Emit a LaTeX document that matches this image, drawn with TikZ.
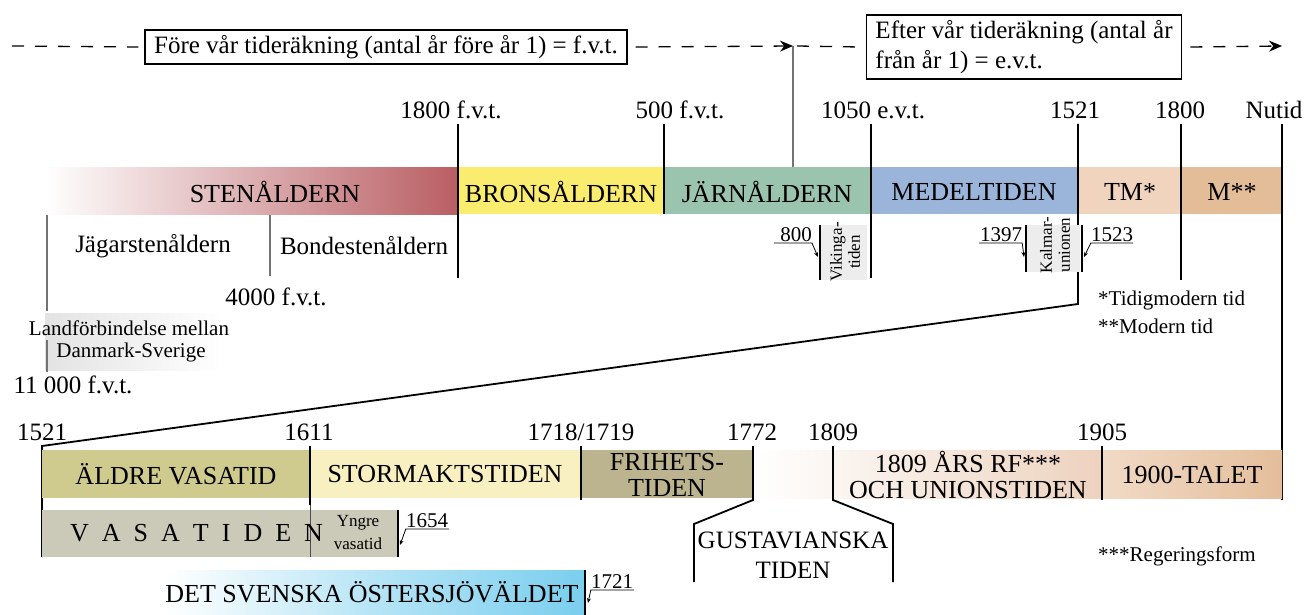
\documentclass[tikz,border=0pt]{standalone}
\usepackage{fontspec}
\setmainfont{Liberation Serif}
\usetikzlibrary{arrows.meta}
\definecolor{sten}{RGB}{185,94,99}
\definecolor{brons}{RGB}{250,236,110}
\definecolor{jarn}{RGB}{155,196,174}
\definecolor{medel}{RGB}{155,180,218}
\definecolor{tmcol}{RGB}{240,212,190}
\definecolor{modcol}{RGB}{227,189,152}
\definecolor{aldre}{RGB}{207,203,142}
\definecolor{storm}{RGB}{248,240,192}
\definecolor{frihet}{RGB}{187,180,143}
\definecolor{rfcol}{RGB}{237,210,190}
\definecolor{taletA}{RGB}{241,218,198}
\definecolor{taletB}{RGB}{228,190,155}
\definecolor{vasacol}{RGB}{203,202,184}
\definecolor{oster}{RGB}{122,206,238}
\definecolor{grayfill}{RGB}{236,237,236}
\newcommand{\szBand}{\fontsize{26}{26}\selectfont}
\newcommand{\szLab}{\fontsize{25}{30}\selectfont}
\newcommand{\szSmall}{\fontsize{21}{25}\selectfont}
\newcommand{\szTiny}{\fontsize{17}{18}\selectfont}
\begin{document}
\begin{tikzpicture}[x=1pt,y=-1pt,
  blk/.style={line width=1.8pt},
  gry/.style={line width=1.4pt, draw=black!55},
  lbl/.style={inner sep=0pt, font=\szLab},
  bandtxt/.style={inner sep=0pt, font=\szBand, align=center},
  dsh/.style={line width=1.3pt, dash pattern=on 12pt off 11pt},
  bigarrow/.style={-{Stealth[length=13pt,width=11pt]}},
  smallarrow/.style={-{Stealth[length=5pt,width=4pt]}, line width=0.8pt},
  numlbl/.style={inner sep=0pt, font=\szSmall, anchor=south},
  note/.style={inner sep=0pt, font=\szSmall, anchor=west},
  boxnode/.style={draw, line width=1.6pt, inner xsep=9pt, inner ysep=5pt, font=\szLab, align=left}]
\useasboundingbox (0,0) rectangle (1306,615);

% ---------- top arrows ----------
\node[boxnode] (fvt) at (386,47) {Före vår tideräkning (antal år före år 1) = f.v.t.};
\node[boxnode] (evt) at (1024,47) {Efter vår tideräkning (antal år\\från år 1) = e.v.t.};
\coordinate (d0) at (12,46);
\coordinate (arrA) at (793,46);
\coordinate (arrB) at (1282,46);
\coordinate (jtop) at (793,168);
\draw[dsh] (d0) -- ([xshift=-6pt]fvt.west);
\draw[dsh,bigarrow] ([xshift=8pt]fvt.east) -- (arrA);
\draw[dsh] ([xshift=4pt]arrA) -- ([xshift=-6pt]evt.west);
\draw[dsh,bigarrow] ([xshift=8pt]evt.east) -- (arrB);
\draw[gry] (arrA) -- (jtop);

% ---------- upper band ----------
\shade[left color=white, right color=sten] (45,167) rectangle (458,214);
\fill[brons] (458,167) rectangle (664,214);
\fill[jarn] (664,167) rectangle (871,214);
\fill[medel] (871,167) rectangle (1078,214);
\fill[tmcol] (1078,167) rectangle (1181,214);
\fill[modcol] (1181,167) rectangle (1282,214);

\node[bandtxt] (sten) at (275,192) {STENÅLDERN};
\node[bandtxt] (bron) at (561,192) {BRONSÅLDERN};
\node[bandtxt] (jarnt) at (767,192) {JÄRNÅLDERN};
\node[bandtxt] (medt) at (974,192) {MEDELTIDEN};
\node[bandtxt] (tmt) at (1130,192) {TM*};
\node[bandtxt] (mt) at (1232,192) {M**};

\node[lbl] (l1800) at (451,110) {1800 f.v.t.};
\node[lbl] (l500) at (680,110) {500 f.v.t.};
\node[lbl] (l1050) at (873,110) {1050 e.v.t.};
\node[lbl] (l1521) at (1075,110) {1521};
\node[lbl] (l1800b) at (1180,110) {1800};
\node[lbl] (lnu) at (1274,110) {Nutid};

\draw[blk] (458,124) -- (458,278);
\draw[blk] (664,124) -- (664,214);
\draw[blk] (871,124) -- (871,278);
\draw[blk] (1078,124) -- (1078,304) -- (42,446) -- (42,557);
\draw[blk] (1181,124) -- (1181,280);
\draw[blk] (1282,124) -- (1282,500);

% stone age subdivisions
\shade[left color=black!11, middle color=black!9, right color=white] (45,313) rectangle (222,370);
\draw[gry] (47,215) -- (47,311);
\draw[gry] (47,340) -- (47,372);
\draw[gry] (270,215) -- (270,276);
\node[lbl] (jag) at (153,246) {Jägarstenåldern};
\node[lbl] (bond) at (364,246) {Bondestenåldern};
\node[lbl] (l4000) at (276,297) {4000 f.v.t.};
\node[inner sep=0pt, font=\szSmall] (land1) at (129,328) {Landförbindelse mellan};
\node[inner sep=0pt, font=\szSmall] (land2) at (131,352) {Danmark-Sverige};
\node[lbl] (l11000) at (73,385) {11 000 f.v.t.};

% Vikingatiden
\fill[grayfill] (820,225) rectangle (867,280);
\draw[line width=2.4pt] (820,225) -- (820,280);
\node[rotate=90, font=\szTiny, align=center, inner sep=0pt] (vik) at (845,252) {Vikinga-\\tiden};
\node[numlbl] (n800) at (796,242) {800};
\coordinate (u800) at (774,243);
\coordinate (v800) at (818,257);
\draw[smallarrow] (u800) -- (n800.south east |- u800) -- (v800);

% Kalmarunionen
\fill[grayfill] (1026,225) rectangle (1080,272);
\draw[line width=2.4pt] (1026,225) -- (1026,272);
\draw[line width=2.4pt] (1082,225) -- (1082,272);
\node[rotate=90, font=\szTiny, align=center, inner sep=0pt] (kalm) at (1055,245) {Kalmar-\\unionen};
\node[numlbl] (n1397) at (1001,242) {1397};
\coordinate (u1397) at (979,243);
\coordinate (v1397) at (1024,257);
\draw[smallarrow] (u1397) -- (n1397.south east |- u1397) -- (v1397);
\node[numlbl] (n1523) at (1112,242) {1523};
\coordinate (u1523) at (1133,243);
\coordinate (v1523) at (1084,257);
\draw[smallarrow] (u1523) -- (n1523.south west |- u1523) -- (v1523);

\node[note] (nt1) at (1098,300) {*Tidigmodern tid};
\node[note] (nt2) at (1098,326) {**Modern tid};

% ---------- lower band ----------
\fill[aldre] (42,450) rectangle (310,498);
\fill[storm] (310,450) rectangle (581,498);
\fill[frihet] (581,450) rectangle (753,498);
\shade[left color=white, right color=rfcol] (756,450) rectangle (1102,498);
\shade[left color=taletA, right color=taletB] (1102,450) rectangle (1282,498);

\node[bandtxt] (aldt) at (176,474) {ÄLDRE VASATID};
\node[bandtxt] (stormt) at (445,474) {STORMAKTSTIDEN};
\node[bandtxt] (frit) at (667,475) {FRIHETS-\\TIDEN};
\node[bandtxt] (rft) at (968,475) {1809 ÅRS RF***\\OCH UNIONSTIDEN};
\node[bandtxt] (talt) at (1192,475) {1900-TALET};

\node[lbl] (b1521) at (42,432) {1521};
\node[lbl] (b1611) at (309,432) {1611};
\node[lbl] (b1718) at (581,432) {1718/1719};
\node[lbl] (b1772) at (752,432) {1772};
\node[lbl] (b1809) at (833,432) {1809};
\node[lbl] (b1905) at (1102,432) {1905};

% Vasatiden
\fill[vasacol] (42,510) rectangle (398,557);
\draw[blk] (310,446) -- (310,505);
\draw[line width=1pt, black!70] (310,505) -- (310,557);
\draw[line width=1.2pt] (398,510) -- (398,557);
\node[inner sep=0pt, font=\szBand, anchor=west] (vasat) at (70,533) {V\hspace{13pt}A\hspace{13pt}S\hspace{13pt}A\hspace{13pt}T\hspace{13pt}I\hspace{13pt}D\hspace{13pt}E\hspace{13pt}N};
\node[inner sep=0pt, font=\fontsize{17}{23}\selectfont, align=center] (yngre) at (358,533) {Yngre\\vasatid};
\node[numlbl] (n1654) at (427,528) {1654};
\coordinate (u1654) at (449,529);
\coordinate (v1654) at (400,545);
\draw[smallarrow] (u1654) -- (n1654.south west |- u1654) -- (v1654);

% Gustavianska
\draw[blk] (753,446) -- (753,500) -- (694,524) -- (694,582);
\draw[blk] (833,446) -- (833,500) -- (893,524) -- (893,582);
\draw[blk] (581,446) -- (581,500);
\draw[blk] (1102,446) -- (1102,500);
\node[bandtxt, align=center, font=\fontsize{25}{30}\selectfont] (gust) at (793,555) {GUSTAVIANSKA\\TIDEN};

\node[note] (nt3) at (1098,556) {***Regeringsform};

% Östersjöväldet
\shade[left color=white, right color=oster, middle color=oster!55] (165,570) rectangle (585,615);
\draw[blk] (585,570) -- (585,615);
\node[bandtxt] (ost) at (372,592) {DET SVENSKA ÖSTERSJÖVÄLDET};
\node[numlbl] (n1721) at (612,589) {1721};
\coordinate (u1721) at (634,590);
\coordinate (v1721) at (588,603);
\draw[smallarrow] (u1721) -- (n1721.south west |- u1721) -- (v1721);
\end{tikzpicture}
\end{document}
